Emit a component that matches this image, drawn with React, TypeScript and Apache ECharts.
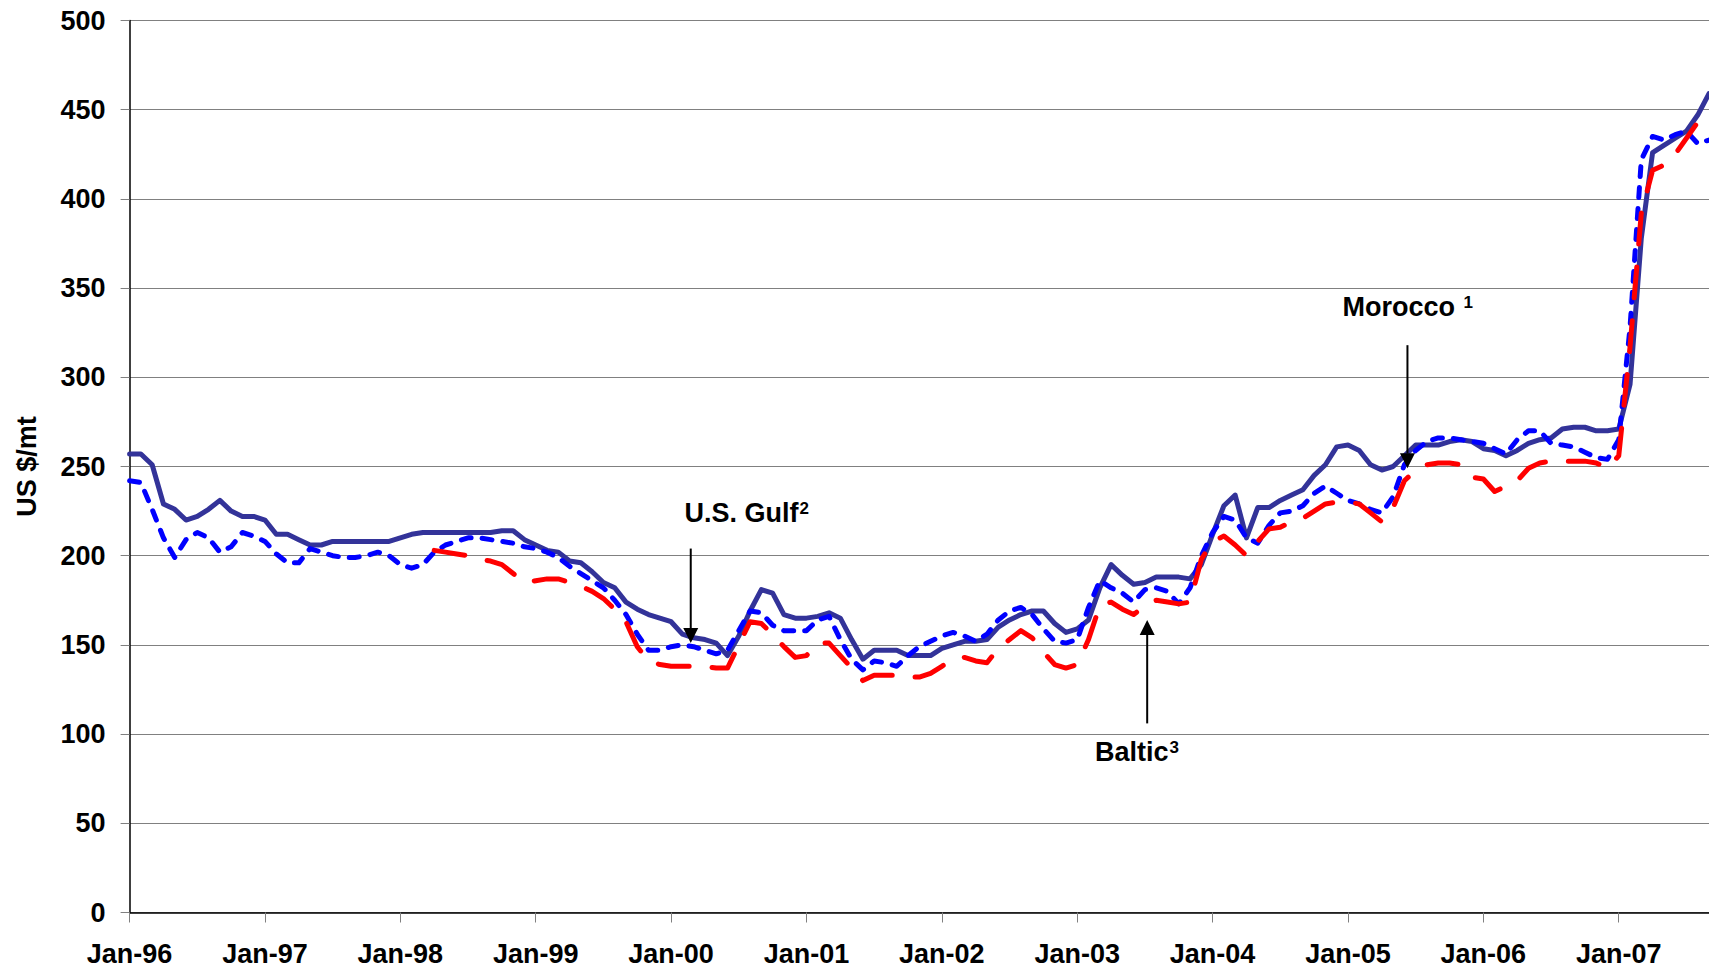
import React, { useEffect, useRef } from "react";
import * as echarts from "echarts";

// Tick labels on the month axis (one every 12 months, index 0 = Jan-96)
const tickLabels = [
  "Jan-96", "Jan-97", "Jan-98", "Jan-99", "Jan-00", "Jan-01",
  "Jan-02", "Jan-03", "Jan-04", "Jan-05", "Jan-06", "Jan-07",
];
const tickIndices = [0, 12, 24, 36, 48, 60, 72, 84, 96, 108, 120, 132];
const lastMonthIndex = 140; // Sep-07

// Monthly prices, US $/mt, Jan-96 .. Sep-07
const usGulf = [
  257, 257, 251, 229, 226, 220, 222, 226, 231, 225,
  222, 222, 220, 212, 212, 209, 206, 206, 208, 208,
  208, 208, 208, 208, 210, 212, 213, 213, 213, 213,
  213, 213, 213, 214, 214, 209, 206, 203, 202, 197,
  196, 191, 185, 182, 174, 170, 167, 165, 163, 156,
  154, 153, 151, 144, 155, 169, 181, 179, 167, 165,
  165, 166, 168, 165, 153, 142, 147, 147, 147, 144,
  144, 144, 148, 150, 152, 152, 153, 160, 164, 167,
  169, 169, 162, 157, 159, 164, 182, 195, 189, 184,
  185, 188, 188, 188, 187, 195, 212, 228, 234, 210,
  227, 227, 231, 234, 237, 245, 251, 261, 262, 259,
  251, 248, 250, 256, 262, 262, 262, 264, 265, 264,
  260, 259, 256, 259, 263, 265, 266, 271, 272, 272,
  270, 270, 271, 296, 378, 426, 430, 434, 438, 447,
  459,
];

const morocco = [
  242, 241, 226, 210, 199, 209, 213, 210, 202, 205,
  213, 211, 208, 201, 196, 196, 204, 202, 200, 199,
  199, 200, 202, 200, 195, 193, 195, 202, 206, 208,
  210, 210, 209, 208, 207, 205, 204, 202, 199, 194,
  190, 186, 182, 175, 167, 156, 147, 147, 149, 150,
  149, 147, 145, 147, 158, 169, 168, 161, 158, 158,
  158, 164, 166, 153, 142, 136, 141, 140, 138, 144,
  149, 152, 155, 157, 155, 152, 156, 164, 169, 171,
  167, 159, 152, 151, 153, 171, 186, 182, 179, 174,
  181, 182, 180, 173, 182, 200, 213, 222, 220, 210,
  207, 217, 224, 225, 228, 235, 239, 235, 231, 229,
  226, 224, 233, 251, 259, 264, 266, 266, 265, 264,
  263, 260, 257, 265, 270, 270, 263, 262, 261, 258,
  255, 254, 265, 328, 422, 435, 433, 436, 438, 431,
  433,
];

const baltic = [
  null, null, null, null, null, null, null, null, null, null,
  null, null, null, null, null, null, null, null, null, null,
  null, null, null, null, null, null, null, 203, 202, 201,
  200, 198, 197, 195, 190, 185, 186, 187, 187, 185,
  183, 180, 176, 170, 163, 149, 141, 139, 138, 138,
  138, 138, 137, 137, 150, 163, 162, 156, 149, 143,
  144, 151, 151, 144, 137, 130, 133, 133, 133, 132,
  132, 134, 138, 142, 143, 141, 140, 148, 153, 158,
  154, 146, 139, 137, 139, 153, 172, 174, 170, 167,
  172, 175, 174, 173, 174, 198, 208, 211, 206, 200,
  208, 215, 216, 219, 221, 225, 229, 230, 230, 229,
  224, 219, 227, 242, 248, 251, 252, 252, 251, 244,
  243, 236, 239, 242, 249, 252, 253, 253, 253, 253,
  252, 249, 256, 317, 392, 416, 419, 425, 434, 443,
  451,
];

// Annotations: [monthIndex, value] positions for text and arrows
const annotations = [
  { label: "U.S. Gulf", sup: "2", textAt: [54.7, 224], from: [49.74, 204], to: [49.74, 151], dir: 1 },
  { label: "Morocco ", sup: "1", textAt: [113.3, 339.5], from: [113.27, 318], to: [113.27, 249], dir: 1 },
  { label: "Baltic", sup: "3", textAt: [89.3, 90], from: [90.2, 106], to: [90.2, 164], dir: -1 },
];

const FONT = '"Liberation Sans", Arial, Helvetica, sans-serif';

function pairs(arr: (number | null)[]) {
  const out: [number, number][] = [];
  arr.forEach((v, i) => {
    if (v !== null && v !== undefined) out.push([i, v]);
  });
  return out;
}

export default function App() {
  const ref = useRef<HTMLDivElement>(null);

  useEffect(() => {
    document.body.style.margin = "0";
    if (!ref.current) return;
    const chart = echarts.init(ref.current, undefined, { renderer: "svg" });

    const labelStyle = {
      fontSize: 27,
      fontWeight: "bold" as const,
      color: "#000",
      fontFamily: FONT,
    };

    const option: any = {
      animation: false,
      backgroundColor: "#fff",
      grid: { left: 129.6, right: 0, top: 20.5, bottom: 56.5, containLabel: false },
      xAxis: {
        type: "value",
        min: 0,
        max: lastMonthIndex,
        interval: 12,
        axisLine: { show: true, onZero: false, lineStyle: { color: "#000", width: 1.5 } },
        axisTick: { show: true, length: 10, customValues: tickIndices, lineStyle: { color: "#808080", width: 1 } },
        axisLabel: {
          ...labelStyle,
          margin: 28,
          customValues: tickIndices,
          formatter: (v: number) => {
            const k = Math.round(v / 12);
            return Math.abs(v - k * 12) < 1e-6 && tickLabels[k] ? tickLabels[k] : "";
          },
        },
        splitLine: { show: false },
      },
      yAxis: {
        type: "value",
        min: 0,
        max: 500,
        interval: 50,
        name: "US $/mt",
        nameLocation: "middle",
        nameGap: 89,
        nameRotate: 90,
        nameTextStyle: { ...labelStyle },
        axisLine: { show: true, onZero: false, lineStyle: { color: "#000", width: 1.5 } },
        axisTick: { show: true, length: 9, lineStyle: { color: "#808080", width: 1 } },
        axisLabel: { ...labelStyle, margin: 24 },
        splitLine: { show: true, lineStyle: { color: "#808080", width: 1 } },
      },
      series: [
        {
          name: "U.S. Gulf",
          type: "line",
          data: pairs(usGulf),
          showSymbol: false,
          symbol: "none",
          lineStyle: { color: "#333399", width: 5, type: "solid", cap: "round", join: "round" },
          z: 2,
        },
        {
          name: "Morocco",
          type: "line",
          data: pairs(morocco),
          showSymbol: false,
          symbol: "none",
          lineStyle: { color: "#0000FF", width: 5, type: [10, 11], cap: "round", join: "round" },
          z: 3,
        },
        {
          name: "Baltic",
          type: "line",
          data: pairs(baltic),
          showSymbol: false,
          symbol: "none",
          lineStyle: { color: "#FF0000", width: 5, type: [31, 23], cap: "round", join: "round" },
          z: 4,
        },
      ],
    };

    chart.setOption(option);

    const toPx = (p: number[]) => chart.convertToPixel({ gridIndex: 0 }, p) as number[];
    const graphics: any[] = [];
    annotations.forEach((a) => {
      const t = toPx(a.textAt);
      const f = toPx(a.from);
      const to = toPx(a.to);
      const head = 15;
      const half = 7.5;
      // dir 1: arrow points down (tip below), -1: arrow points up
      const baseY = to[1] - a.dir * head;
      graphics.push({
        type: "text",
        x: t[0],
        y: t[1],
        z: 100,
        style: {
          text: `{b|${a.label}}{s|${a.sup}}`,
          fill: "#000",
          align: "center",
          verticalAlign: "middle",
          textAlign: "center",
          textVerticalAlign: "middle",
          rich: {
            b: { fontSize: 27, fontWeight: "bold", fontFamily: FONT, fill: "#000", color: "#000" },
            s: { fontSize: 17, fontWeight: "bold", fontFamily: FONT, fill: "#000", color: "#000", padding: [0, 0, 9, 1] },
          },
        },
      });
      graphics.push({
        type: "line",
        z: 100,
        shape: { x1: f[0], y1: f[1], x2: to[0], y2: baseY },
        style: { stroke: "#000", lineWidth: 2 },
      });
      graphics.push({
        type: "polygon",
        z: 100,
        shape: {
          points: [
            [to[0], to[1]],
            [to[0] - half, baseY],
            [to[0] + half, baseY],
          ],
        },
        style: { fill: "#000" },
      });
    });
    chart.setOption({ graphic: graphics });

    return () => {
      chart.dispose();
    };
  }, []);

  return <div ref={ref} style={{ width: "1709px", height: "969px" }} />;
}
